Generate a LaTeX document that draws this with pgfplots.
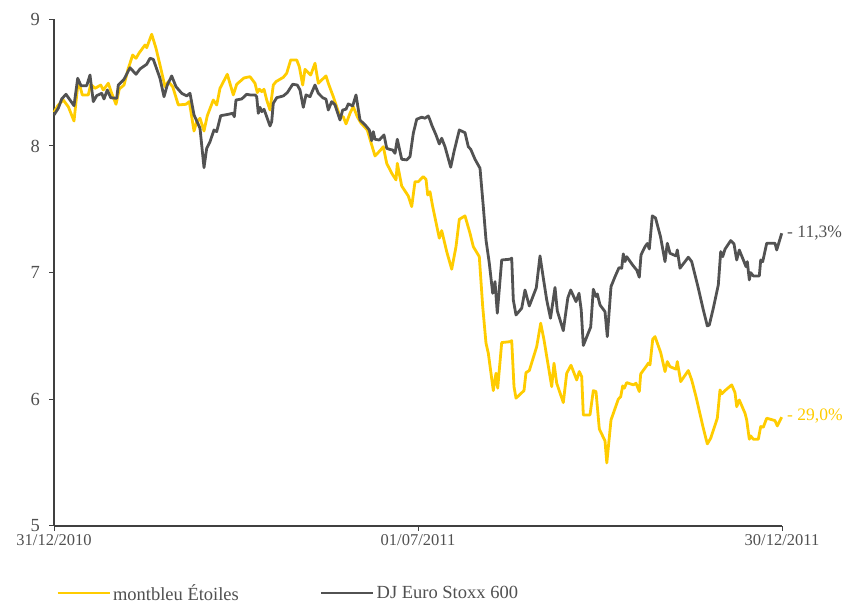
\documentclass[border=0pt]{standalone}
\usepackage{fontspec}
\setmainfont{Liberation Serif}
\usepackage{pgfplots}
\usepackage{pgfplotstable}
\pgfplotsset{compat=1.18}
\definecolor{myyellow}{HTML}{FFCC00}
\definecolor{mygray}{HTML}{525252}
\definecolor{txtgray}{HTML}{505050}
\definecolor{axgray}{HTML}{404040}

\pgfplotstableread{
d v
0 8.266
2.15 8.324
4.65 8.363
7.15 8.310
10 8.197
12.15 8.521
14.15 8.403
17.15 8.403
18.35 8.487
20.5 8.455
23.35 8.481
24.65 8.442
27.15 8.495
28.85 8.416
31 8.329
32.65 8.450
35 8.481
37.15 8.613
39.35 8.718
41 8.692
42.65 8.736
45.5 8.797
46.35 8.776
48.85 8.882
51 8.771
53 8.639
55.5 8.468
57.15 8.508
59.35 8.468
62.15 8.324
66 8.329
67.65 8.350
70 8.118
71.35 8.192
73 8.219
75 8.118
76.65 8.239
79.65 8.363
81.35 8.324
83 8.455
86.65 8.566
89.65 8.403
91.35 8.487
95 8.537
98 8.547
100.5 8.495
101.65 8.421
102.65 8.448
103.85 8.429
105 8.448
106.35 8.363
108 8.284
109.65 8.481
111 8.508
114.65 8.542
116.35 8.574
118.35 8.679
121.35 8.679
122.65 8.626
124.35 8.481
125.5 8.605
128.35 8.560
130.5 8.653
132.15 8.495
133.85 8.521
136 8.553
137.15 8.495
139.65 8.389
143 8.231
144.65 8.231
146 8.174
148 8.258
149.65 8.310
151.65 8.231
153.35 8.184
156.65 8.126
158.85 8.008
160.5 7.921
163 7.963
164.65 7.994
166.35 7.863
168.85 7.785
171 7.732
171.65 7.863
173.85 7.684
177.15 7.605
178.85 7.521
180.5 7.718
182.15 7.718
184.65 7.758
186 7.737
186.85 7.613
188 7.639
189.35 7.521
192.65 7.272
193.85 7.332
196.35 7.166
198.85 7.027
201 7.205
202.65 7.421
205.5 7.448
208 7.311
209.65 7.205
212.65 7.126
214.35 6.732
216 6.443
217.15 6.364
219.65 6.069
221 6.206
221.85 6.088
223.85 6.448
228 6.455
228.85 6.463
230 6.100
231 6.009
235 6.069
236 6.211
237.65 6.227
241.35 6.416
243.35 6.601
245 6.469
248.85 6.100
250 6.285
251.35 6.127
254.65 5.974
256.35 6.206
258.5 6.269
261.35 6.153
262.65 6.219
263.85 6.179
264.65 5.877
268 5.877
269.65 6.069
271 6.061
272.65 5.766
275.5 5.672
276.4 5.498
278.5 5.837
282.15 6.001
283.35 6.021
284.35 6.106
285.15 6.088
286.35 6.132
289.65 6.114
291 6.127
292.65 6.061
293.35 6.201
296 6.258
297.15 6.285
298 6.272
299.35 6.474
300.5 6.495
303.35 6.369
305.5 6.219
306.65 6.298
308 6.258
311 6.238
311.65 6.298
313.35 6.140
317.15 6.227
318.85 6.153
321 6.021
324.65 5.772
326.65 5.648
328.35 5.693
331.65 5.851
333 6.074
333.85 6.043
335.5 6.069
338.85 6.114
340.5 6.053
341.35 5.942
342.65 5.995
345.5 5.890
346.35 5.837
347.65 5.685
348.35 5.711
349.65 5.685
352.15 5.685
353.35 5.785
354.65 5.780
356.35 5.851
360.5 5.832
361.65 5.790
363.85 5.859
}\yellowdata

\pgfplotstableread{
d v
0 8.245
2.15 8.298
3.85 8.371
6 8.408
8 8.363
10 8.318
11.85 8.534
13.5 8.476
16.35 8.476
18 8.560
19.65 8.350
21.35 8.397
23.85 8.416
25 8.371
26.65 8.442
28.35 8.381
31.35 8.376
32.15 8.481
35 8.526
38 8.618
41 8.566
43 8.608
46.35 8.645
48 8.692
49.65 8.684
53 8.534
55 8.389
56.65 8.481
58.85 8.553
61 8.468
63.85 8.416
66.35 8.395
68 8.416
70 8.245
73 8.140
75 7.829
76.35 7.982
78 8.034
80 8.126
81.35 8.113
83.35 8.239
87.15 8.250
89.35 8.258
90.15 8.231
91 8.363
93.85 8.371
96.35 8.408
98 8.403
100.5 8.403
101.35 8.389
102.15 8.258
103 8.305
103.85 8.271
105 8.290
106.35 8.231
108 8.158
108.85 8.192
109.65 8.337
111.35 8.381
114.65 8.395
116.65 8.421
119.35 8.487
121.65 8.481
123 8.442
124.65 8.305
126 8.403
128 8.389
130.5 8.481
132.15 8.416
134.35 8.381
136 8.369
137.15 8.284
138.85 8.350
140.5 8.324
143 8.205
144.35 8.284
146 8.290
147.15 8.332
149.35 8.316
151 8.403
153 8.205
156 8.158
157.65 8.126
158.85 8.042
159.65 8.113
160.5 8.053
162.65 8.047
165 8.087
166.35 7.982
167.65 7.974
169.35 7.968
170.5 7.942
171.65 8.053
173.85 7.895
176.35 7.890
178 7.916
179.65 8.100
181.35 8.211
183.85 8.227
185.5 8.219
187.15 8.237
188 8.205
188.85 8.166
191 8.087
192.65 8.016
193.85 8.061
195.5 7.994
198.35 7.832
200 7.955
202.65 8.126
205.5 8.105
207.15 7.994
208.35 7.974
210.5 7.895
213 7.824
214.65 7.521
216 7.258
217.65 7.074
219.35 6.837
220.5 6.929
221.65 6.680
223.85 7.100
228 7.106
228.85 7.114
229.65 6.785
231 6.666
233.85 6.719
235.5 6.863
237.65 6.737
241.15 6.881
243 7.132
244.65 6.958
246.35 6.785
248.25 6.640
250.5 6.883
251.65 6.698
254.65 6.542
256.9 6.800
258.35 6.863
261 6.771
262.5 6.837
263.6 6.706
264.65 6.425
268.35 6.571
269.65 6.869
271 6.811
271.65 6.832
273 6.745
275.5 6.692
276.65 6.495
278.5 6.890
280.5 6.968
282.5 7.039
283.85 7.035
284.65 7.148
285.5 7.087
286.35 7.126
289.65 7.053
291.35 7.021
292.65 6.964
293.5 7.140
295.5 7.205
296.65 7.230
297.65 7.187
299.15 7.448
300.75 7.432
303.25 7.284
305.5 7.087
306.65 7.232
308 7.153
311 7.132
311.65 7.179
313 7.035
317.15 7.122
318.85 7.087
320.5 6.982
322.15 6.877
324.65 6.706
326.65 6.579
327.65 6.587
329.65 6.719
332.15 6.903
333.35 7.166
334.35 7.126
335.5 7.185
338.35 7.253
340 7.227
341.35 7.100
342.65 7.179
345 7.087
346 7.047
346.65 7.087
347.65 6.943
348.35 7.000
349.65 6.974
352.65 6.974
353.35 7.100
354.35 7.087
356.35 7.232
360.5 7.232
361.35 7.179
363.85 7.311
}\graydata

\begin{document}
\begin{tikzpicture}[x=1pt,y=1pt]
\path[use as bounding box] (0,0) rectangle (848,604);
\begin{axis}[
  at={(54pt,78pt)}, anchor=south west,
  width=728pt, height=506.7pt, scale only axis,
  xmin=0, xmax=364, ymin=5, ymax=9,
  axis x line=bottom, axis y line=left,
  axis line style={-, draw=axgray, line width=1.2pt},
  xtick={0,182,364},
  xticklabels={31/12/2010,01/07/2011,30/12/2011},
  ytick={5,6,7,8,9},
  minor tick num=0,
  tick align=outside, major tick length=5pt,
  tick style={draw=axgray, line width=1pt},
  xticklabel style={font=\fontsize{16.5}{18}\selectfont, text=txtgray, inner sep=0pt, yshift=-3pt},
  yticklabel style={font=\fontsize{18.5}{20}\selectfont, text=txtgray, inner sep=0pt, xshift=-9pt},
  /pgf/number format/assume math mode=true,
  clip=false,
  legend columns=2,
  legend cell align=left,
  legend image code/.code={\draw[#1] (0pt,0pt) -- (52pt,0pt);},
  legend style={at={(0,0)}, anchor=west, xshift=2pt, yshift=-67pt,
    draw=none, fill=none, inner sep=0pt,
    font=\fontsize{18.5}{20}\selectfont, text=txtgray,
    nodes={inner sep=2pt},
    /tikz/every even column/.append style={column sep=79pt}},
]
\addplot[myyellow, line width=2.8pt, line join=round, mark=none] table[x=d,y=v]{\yellowdata};
\addlegendentry{montbleu Étoiles}
\addplot[mygray, line width=2.8pt, line join=round, mark=none] table[x=d,y=v]{\graydata};
\addlegendentry{DJ Euro Stoxx 600}
\node[anchor=west, xshift=5pt, inner sep=0pt, text=mygray, font=\fontsize{17.5}{19}\selectfont] at (axis cs:364,7.311) {- 11,3\%};
\node[anchor=west, xshift=5pt, inner sep=0pt, text=myyellow, font=\fontsize{17.5}{19}\selectfont] at (axis cs:364,5.870) {- 29,0\%};
\end{axis}
\end{tikzpicture}
\end{document}
